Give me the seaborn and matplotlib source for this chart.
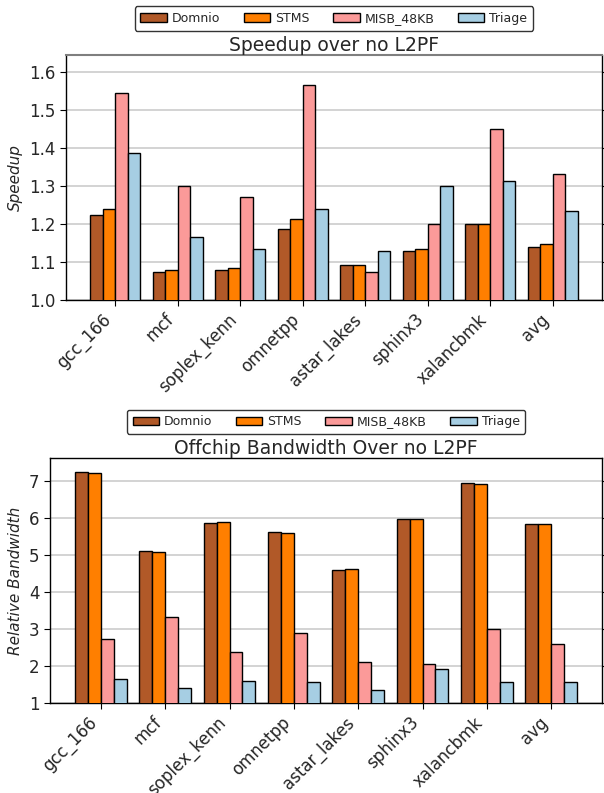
import numpy as np
import pandas as pd
import matplotlib
matplotlib.use("Agg")
import matplotlib.pyplot as plt
import seaborn as sns

benchmarks = ["gcc_166", "mcf", "soplex_kenn", "omnetpp", "astar_lakes",
              "sphinx3", "xalancbmk", "avg"]
schemes = ["Domnio", "STMS", "MISB_48KB", "Triage"]

speedup_domnio = [1.223, 1.074, 1.080, 1.186, 1.092, 1.129, 1.201, 1.140]
speedup_stms = [1.239, 1.078, 1.083, 1.214, 1.092, 1.135, 1.200, 1.147]
speedup_misb = [1.545, 1.299, 1.270, 1.565, 1.073, 1.201, 1.451, 1.332]
speedup_triage = [1.387, 1.165, 1.133, 1.239, 1.128, 1.299, 1.313, 1.234]

bw_domnio = [7.24, 5.11, 5.87, 5.61, 4.58, 5.98, 6.95, 5.84]
bw_stms = [7.22, 5.09, 5.88, 5.58, 4.61, 5.98, 6.92, 5.84]
bw_misb = [2.73, 3.32, 2.37, 2.89, 2.11, 2.05, 3.01, 2.60]
bw_triage = [1.64, 1.40, 1.59, 1.57, 1.34, 1.92, 1.57, 1.57]

colors = ["#b15928", "#ff7f00", "#fb9a99", "#a6cee3"]


def long_frame(series):
    rows = []
    for name, vals in zip(schemes, series):
        for b, v in zip(benchmarks, vals):
            rows.append({"benchmark": b, "scheme": name, "value": v})
    return pd.DataFrame(rows)


sns.set_style("ticks")
plt.rcParams["font.family"] = ["DejaVu Sans"]

fig = plt.figure(figsize=(6.04, 7.93), dpi=100)
ax1 = fig.add_axes([0.109, 0.6217, 0.8877, 0.3089])
ax2 = fig.add_axes([0.0828, 0.1135, 0.9139, 0.3085])

panels = [
    (ax1, [speedup_domnio, speedup_stms, speedup_misb, speedup_triage],
     "Speedup over no L2PF", "Speedup", (1.0, 1.645),
     [1.0, 1.1, 1.2, 1.3, 1.4, 1.5, 1.6], ["1.0", "1.1", "1.2", "1.3", "1.4", "1.5", "1.6"]),
    (ax2, [bw_domnio, bw_stms, bw_misb, bw_triage],
     "Offchip Bandwidth Over no L2PF", "Relative Bandwidth", (1.0, 7.61),
     [1, 2, 3, 4, 5, 6, 7], ["1", "2", "3", "4", "5", "6", "7"]),
]

for ax, series, title, ylabel, ylim, yticks, ylabels in panels:
    df = long_frame(series)
    sns.barplot(data=df, x="benchmark", y="value", hue="scheme",
                order=benchmarks, hue_order=schemes, palette=colors,
                width=0.8, edgecolor="black", linewidth=1.0,
                saturation=1.0, errorbar=None, ax=ax, zorder=3)
    ax.set_xlim(-0.79, 7.79)
    ax.set_ylim(*ylim)
    ax.set_yticks(yticks)
    ax.set_yticklabels(ylabels)
    ax.yaxis.grid(True, color="#cccccc", linewidth=1.2, zorder=0)
    ax.set_axisbelow(True)
    ax.tick_params(axis="y", which="both", left=True, right=True, direction="out",
                   labelsize=12, length=4, color="black")
    ax.tick_params(axis="x", labelsize=12, length=4, color="black")
    ax.set_xlabel("")
    ax.set_ylabel(ylabel, fontsize=11, style="italic")
    ax.set_xticks(range(len(benchmarks)))
    ax.set_xticklabels(benchmarks, rotation=45, ha="right", rotation_mode="default")
    for sp in ax.spines.values():
        sp.set_visible(True)
        sp.set_color("black")
        sp.set_linewidth(1.0)
    ax.set_title(title, fontsize=13.5, pad=3)
    leg = ax.get_legend()
    if leg is not None:
        leg.remove()
    handles = [plt.Rectangle((0, 0), 1, 1, facecolor=c, edgecolor="black", linewidth=1.0)
               for c in colors]
    ax.legend(handles, schemes, loc="lower center", bbox_to_anchor=(0.5, 1.10),
              ncol=4, fontsize=9, frameon=True, edgecolor="black", fancybox=True,
              handlelength=2.1, handletextpad=0.4, columnspacing=1.9,
              borderpad=0.45, borderaxespad=0.0)

ax1.spines["top"].set_color("#7f7f7f")
ax1.spines["top"].set_linewidth(1.5)

fig.savefig("out.png", dpi=100)
